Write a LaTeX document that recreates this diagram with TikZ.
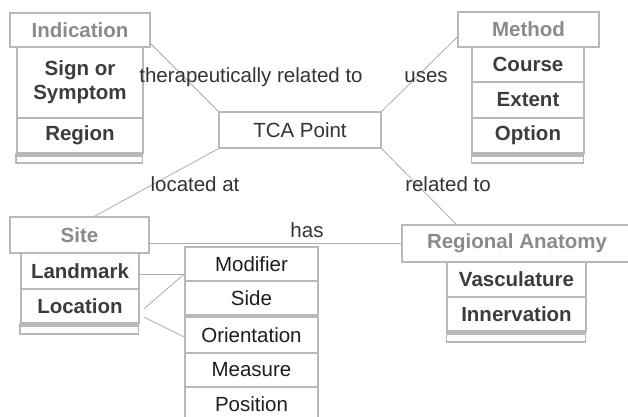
\documentclass[tikz,border=0pt]{standalone}
\usepackage{fontspec}
\setmainfont{Liberation Sans}
\definecolor{boxgray}{HTML}{B8B8B8}
\definecolor{linegray}{HTML}{ABABAB}
\definecolor{hdrtext}{HTML}{8A8A8A}
\definecolor{attrtext}{HTML}{3C3C3C}
\definecolor{opttext}{HTML}{1E1E1E}
\definecolor{lbltext}{HTML}{333333}
\begin{document}
\begin{tikzpicture}[x=1bp,y=-1bp,
    every node/.style={font=\fontsize{20.5bp}{24bp}\selectfont,inner sep=0pt},
    hdr/.style={draw=boxgray,line width=1.5bp,text=hdrtext,font=\fontsize{20.5bp}{24bp}\selectfont\bfseries,minimum height=35bp},
    attr/.style={draw=boxgray,line width=1.5bp,text=attrtext,font=\fontsize{20.5bp}{24bp}\selectfont\bfseries,align=center},
    optbox/.style={draw=boxgray,line width=1.5bp,text=opttext,minimum width=133bp,minimum height=34bp},
    strip/.style={draw=boxgray,line width=1.5bp},
    lbl/.style={text=lbltext},
    conn/.style={draw=linegray,line width=0.8bp}]
  \clip (0,0) rectangle (628,416);
  \useasboundingbox (0,0) rectangle (628,416);

  % TCA Point
  \node[draw=boxgray,line width=1.5bp,text=lbltext,minimum width=162bp,minimum height=36bp] (tca) at (300,130) {TCA Point};

  % Indication
  \node[hdr,minimum width=140bp,minimum height=34bp] (ind) at (80,30) {Indication};
  \node[attr,minimum width=126bp,minimum height=71bp] (sign) at (80,82.5) {Sign or\\Symptom};
  \node[attr,minimum width=126bp,minimum height=35bp] (reg) at (80,135.5) {Region};
  \draw[strip] (reg.south west) rectangle ++(126,2);
  \draw[strip] (reg.south west) ++(0,2) rectangle ++(126,7);

  % Method
  \node[hdr,minimum width=141bp] (met) at (528.5,29.5) {Method};
  \node[attr,minimum width=112bp,minimum height=35bp] (crs) at (528,64.5) {Course};
  \node[attr,minimum width=112bp,minimum height=36bp] (ext) at (528,100) {Extent};
  \node[attr,minimum width=112bp,minimum height=35bp] (opt) at (528,135.5) {Option};
  \draw[strip] (opt.south west) rectangle ++(112,2);
  \draw[strip] (opt.south west) ++(0,2) rectangle ++(112,7);

  % Site
  \node[hdr,minimum width=139bp,minimum height=36bp] (site) at (79.5,235) {Site};
  \node[attr,minimum width=118bp,minimum height=36bp] (lmk) at (80,271) {Landmark};
  \node[attr,minimum width=118bp,minimum height=34bp] (loc) at (80,306) {Location};
  \draw[strip] (loc.south west) rectangle ++(118,2);
  \draw[strip] (loc.south west) ++(0,2) rectangle ++(118,8);

  % Regional Anatomy
  \node[hdr,minimum width=230bp,minimum height=37bp] (anat) at (517,243.5) {Regional Anatomy};
  \node[attr,minimum width=139bp,minimum height=35bp] (vas) at (516.5,279.5) {Vasculature};
  \node[attr,minimum width=139bp,minimum height=34bp] (inn) at (516.5,314) {Innervation};
  \draw[strip] (inn.south west) rectangle ++(139,2);
  \draw[strip] (inn.south west) ++(0,2) rectangle ++(139,8);

  % qualifiers
  \node[optbox] (mod) at (251.5,264) {Modifier};
  \node[optbox] (side) at (251.5,298) {Side};
  \node[optbox,minimum height=36bp] (ori) at (251.5,335) {Orientation};
  \node[optbox] (mea) at (251.5,370) {Measure};
  \node[optbox] (pos) at (251.5,404) {Position};

  % relations
  \draw[conn] ([yshift=4bp]ind.south east) -- (tca.north west);
  \draw[conn] (tca.north east) -- ([yshift=-7.5bp]met.west);
  \draw[conn] (tca.south west) -- ([xshift=15bp]site.north);
  \draw[conn] (tca.south east) -- ([xshift=55bp]anat.north west);
  \draw[conn] (anat.west) -- (anat.west -| site.east);
  \coordinate (mj) at ([yshift=-10bp]mod.west);
  \draw[conn] (mj -| lmk.east) -- (mj);
  \draw[conn] ([shift={(4bp,-3bp)}]loc.east) -- (mj);
  \draw[conn] ([shift={(4bp,-11bp)}]loc.east) -- ([yshift=-2bp]ori.west);

  \node[lbl] (l1) at (251,77) {therapeutically related to};
  \node[lbl] (l2) at (426,77) {uses};
  \node[lbl] (l3) at (195,184) {located at};
  \node[lbl] (l4) at (448,184) {related to};
  \node[lbl] (l5) at (307,230) {has};
\end{tikzpicture}
\end{document}
